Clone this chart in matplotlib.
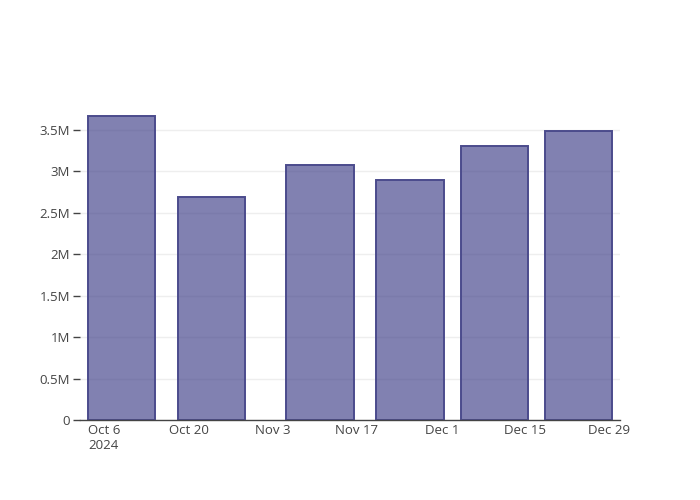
import datetime as dt
import matplotlib
matplotlib.use("Agg")
import matplotlib.pyplot as plt
from matplotlib.ticker import FuncFormatter
from matplotlib.transforms import ScaledTranslation
from matplotlib.textpath import TextPath

# data
bar_dates = ["2024-10-09", "2024-10-24", "2024-11-11", "2024-11-26", "2024-12-10", "2024-12-24"]
bar_values = [3670000, 2685000, 3080000, 2900000, 3305000, 3490000]

tick_dates = ["2024-10-06", "2024-10-20", "2024-11-03", "2024-11-17", "2024-12-01", "2024-12-15", "2024-12-29"]
tick_labels = ["Oct 6\n2024", "Oct 20", "Nov 3", "Nov 17", "Dec 1", "Dec 15", "Dec 29"]
y_ticks = [0, 500000, 1000000, 1500000, 2000000, 2500000, 3000000, 3500000]


def fmt_m(v, pos):
    if v == 0:
        return "0"
    return ("%g" % (v / 1e6)) + "M"


plt.rcParams['font.family'] = ['Open Sans', 'DejaVu Sans']

dates = [dt.datetime.strptime(d, "%Y-%m-%d") for d in bar_dates]
tdates = [dt.datetime.strptime(d, "%Y-%m-%d") for d in tick_dates]

fig = plt.figure(figsize=(7, 5), dpi=100)
ax = fig.add_axes([80 / 700, 80 / 500, 540 / 700, 320 / 500])

# bars 0.8 of the smallest gap (14 days)
ax.bar(dates, bar_values, width=11.2, color=(0.27, 0.27, 0.55, 0.68),
       edgecolor="#4b4b8c", linewidth=1.4, zorder=3)

ax.set_xlim(dates[0] - dt.timedelta(days=6.93), dates[-1] + dt.timedelta(days=6.93))
ax.set_ylim(0, 3677000 * 1.05)

ax.set_xticks(tdates)
ax.set_xticklabels(tick_labels, ha="left")
ax.set_yticks(y_ticks)
ax.yaxis.set_major_formatter(FuncFormatter(fmt_m))

ax.grid(axis="y", color="#eeeeee", linewidth=1, zorder=0)
for s in ["top", "right", "left"]:
    ax.spines[s].set_visible(False)
ax.spines["bottom"].set_color("#444444")
ax.spines["bottom"].set_linewidth(1)
ax.spines["bottom"].set_zorder(4)

ax.tick_params(axis="x", length=0, pad=3, labelsize=9.5, colors="#444444")
ax.tick_params(axis="y", length=5, width=1, color="#444444", labelsize=9.5, labelcolor="#444444", pad=2)

# plotly centers the first line of each label on its tick
for lbl in ax.get_xticklabels():
    first = lbl.get_text().split("\n")[0]
    w = TextPath((0, 0), first, prop=lbl.get_fontproperties()).get_extents().width
    lbl.set_multialignment("left")
    lbl.set_transform(lbl.get_transform() + ScaledTranslation(-w / 2 / 72, 0, fig.dpi_scale_trans))

fig.savefig("out.png", dpi=100)
